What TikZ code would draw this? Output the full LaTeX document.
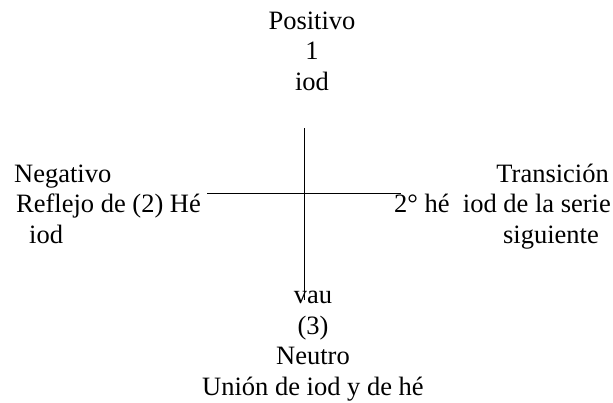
\documentclass[tikz,border=0pt]{standalone}
\usepackage{fontspec}
\setmainfont{Liberation Serif}
\begin{document}
\begin{tikzpicture}[x=1pt, y=-1pt,
  pole/.style={font=\fontsize{26.5}{30.5}\selectfont, inner sep=0pt},
  axis/.style={line width=1pt}]
  \useasboundingbox (0,0) rectangle (613,402);

  % the four poles (anchored on the baseline of their last line)
  \node[pole, align=center, anchor=base] (pos) at (312,90) {Positivo\\1\\iod};
  \node[pole, align=left, anchor=base west] (neg) at (14,243)
    {Negativo\\\hspace*{2pt}Reflejo de (2) Hé\\\hspace*{15pt}iod};
  \node[pole, align=right, anchor=base east] (tra) at (611,243)
    {Transición\hspace*{2pt}\\2° hé\ \ iod de la serie\\siguiente\hspace*{12pt}};
  \node[pole, align=center, anchor=base] (neu) at (313,395)
    {vau\\(3)\\Neutro\\Unión de iod y de hé};

  % cross
  \coordinate (up) at (304,128);
  \coordinate (down) at (304,300);
  \coordinate (left) at (207,193);
  \coordinate (right) at (401,193);
  \draw[axis] (up) -- (down);
  \draw[axis] (left) -- (right);
\end{tikzpicture}
\end{document}
